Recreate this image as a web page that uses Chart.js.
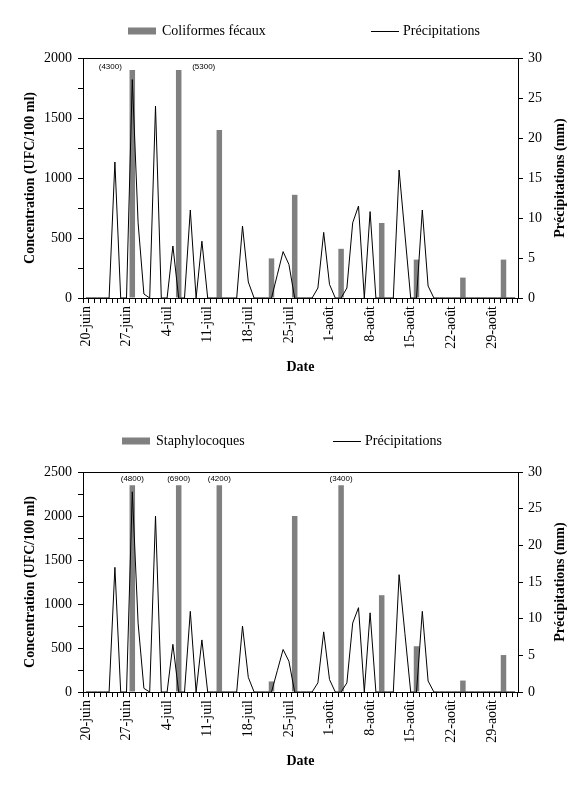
<!DOCTYPE html>
<html>
<head>
<meta charset="utf-8">
<script src="https://cdn.jsdelivr.net/npm/chart.js@4.4.0/dist/chart.umd.min.js"></script>
<style>
  html, body { margin: 0; padding: 0; background: #fff; }
  #page { position: relative; width: 582px; height: 791px; }
  .panel { position: absolute; left: 0; width: 582px; }
  #top { top: 0; height: 395px; }
  #bottom { top: 395px; height: 396px; }
</style>
</head>
<body>
<div id="page">
  <div class="panel" id="top"><canvas id="coli"></canvas></div>
  <div class="panel" id="bottom"><canvas id="staph"></canvas></div>
</div>
<script>
// one category per day, 20 juin -> 2 sept
const categories = [];
[['juin', 20, 30], ['juil', 1, 31], ['août', 1, 31], ['sept', 1, 2]].forEach(([m, a, b]) => {
    for (let d = a; d <= b; d++) categories.push(d + '-' + m);
});

const tickLabels = ['20-juin', '27-juin', '4-juil', '11-juil', '18-juil', '25-juil',
    '1-août', '8-août', '15-août', '22-août', '29-août'];

const sampleDays = ['28-juin', '6-juil', '13-juil', '22-juil', '26-juil',
    '3-août', '10-août', '16-août', '24-août', '31-août'];
const coliformes = [4300, 5300, 1400, 330, 860, 410, 625, 320, 170, 320];
const staphylocoques = [4800, 6900, 4200, 120, 2000, 3400, 1100, 520, 130, 420];

// mm par jour
const precipitations = [
    0, 0, 0, 0, 0, 17, 0, 0, 27.3, 9.4,
    0.5, 0, 24, 0, 0, 6.5, 0, 0, 11, 0,
    7.1, 0, 0, 0, 0, 0, 0, 9, 2, 0,
    0, 0, 0, 2.9, 5.8, 4.2, 0, 0, 0, 0,
    1.25, 8.2, 1.7, 0, 0, 1.25, 9.4, 11.5, 0, 10.8,
    0, 0, 0, 0, 16, 8, 0, 0, 11, 1.5,
    0, 0, 0, 0, 0, 0, 0, 0, 0, 0,
    0, 0, 0, 0, 0
];

const serif = 'Liberation Serif, Times New Roman, serif';
const tickFont = { family: serif, size: 14 };

const decor = {
    id: 'decor',
    afterDraw(chart, args, o) {
        const ctx = chart.ctx, a = chart.chartArea;
        const xs = chart.scales.x;
        ctx.save();
        ctx.strokeStyle = '#000';
        ctx.lineWidth = 1;
        ctx.beginPath();
        ctx.moveTo(a.left, a.top + 0.5);
        ctx.lineTo(a.right, a.top + 0.5);
        ctx.stroke();

        // legend
        ctx.fillStyle = '#808080';
        ctx.fillRect(o.legend.box, o.legend.y - 3.5, 28, 7);
        ctx.beginPath();
        ctx.moveTo(o.legend.line, o.legend.y + 0.5);
        ctx.lineTo(o.legend.line + 28, o.legend.y + 0.5);
        ctx.stroke();
        ctx.fillStyle = '#000';
        ctx.font = '14px ' + serif;
        ctx.textBaseline = 'middle';
        ctx.textAlign = 'left';
        ctx.fillText(o.name, o.legend.box + 34, o.legend.y);
        ctx.fillText('Précipitations', o.legend.line + 32, o.legend.y);

        // axis titles
        ctx.font = 'bold 14px ' + serif;
        ctx.textAlign = 'center';
        ctx.fillText('Date', (a.left + a.right) / 2, o.dateY);
        const mid = (a.top + a.bottom) / 2;
        [[30, 'Concentration (UFC/100 ml)'], [560, 'Précipitations (mm)']].forEach(([x, t]) => {
            ctx.save();
            ctx.translate(x, mid);
            ctx.rotate(-Math.PI / 2);
            ctx.fillText(t, 0, 0);
            ctx.restore();
        });

        // values above the cap
        ctx.font = '8px Liberation Sans, Arial, sans-serif';
        o.values.forEach((v, k) => {
            if (v <= o.cap) return;
            const i = categories.indexOf(sampleDays[k]);
            const x = xs.getPixelForValue(i) + (o.shift[sampleDays[k]] || 0);
            ctx.fillText('(' + v + ')', x, a.top + o.noteY);
        });
        ctx.restore();
    }
};

function makeChart(id, o) {
    const bars = categories.map(d => {
        const k = sampleDays.indexOf(d);
        return k < 0 ? null : Math.min(o.values[k], o.cap);
    });
    return new Chart(document.getElementById(id), {
        type: 'bar',
        data: {
            labels: categories,
            datasets: [{
                type: 'line',
                label: 'Précipitations',
                data: precipitations,
                yAxisID: 'y1',
                borderColor: '#000',
                borderWidth: 1,
                pointRadius: 0,
                tension: 0,
                order: 0
            }, {
                type: 'bar',
                label: o.name,
                data: bars,
                yAxisID: 'y',
                backgroundColor: '#808080',
                barPercentage: 0.95,
                categoryPercentage: 1,
                order: 1
            }]
        },
        options: {
            responsive: true,
            maintainAspectRatio: false,
            animation: false,
            layout: { padding: { top: o.top, left: 0, right: 0, bottom: 0 } },
            plugins: { legend: { display: false }, tooltip: { enabled: false }, decor: o },
            scales: {
                x: {
                    grid: { offset: true, drawOnChartArea: false, tickLength: 5, color: '#000' },
                    border: { color: '#000' },
                    ticks: {
                        autoSkip: false, minRotation: 90, maxRotation: 90, padding: 3,
                        color: '#000', font: tickFont,
                        callback: v => tickLabels.includes(categories[v]) ? categories[v] : ''
                    },
                    afterFit: s => { s.height = o.xh; }
                },
                y: {
                    position: 'left', min: 0, max: o.max,
                    grid: { drawOnChartArea: false, tickLength: 5, color: '#000' },
                    border: { color: '#000' },
                    ticks: {
                        stepSize: 250, padding: 6, color: '#000', font: tickFont,
                        callback: v => v % 500 === 0 ? v : ''
                    },
                    afterFit: s => { s.width = 83; }
                },
                y1: {
                    position: 'right', min: 0, max: 30,
                    grid: { drawOnChartArea: false, tickLength: 5, color: '#000' },
                    border: { color: '#000' },
                    ticks: { stepSize: 5, padding: 5, color: '#000', font: tickFont },
                    afterFit: s => { s.width = 64; }
                }
            }
        },
        plugins: [decor]
    });
}

makeChart('coli', {
    name: 'Coliformes fécaux', values: coliformes, cap: 1900, max: 2000,
    top: 58, xh: 97, dateY: 367, noteY: 9,
    shift: { '28-juin': -22, '6-juil': 25 },
    legend: { y: 31, box: 128, line: 371 }
});
makeChart('staph', {
    name: 'Staphylocoques', values: staphylocoques, cap: 2350, max: 2500,
    top: 77, xh: 99, dateY: 366, noteY: 7,
    shift: {},
    legend: { y: 46, box: 122, line: 333 }
});
</script>
</body>
</html>
